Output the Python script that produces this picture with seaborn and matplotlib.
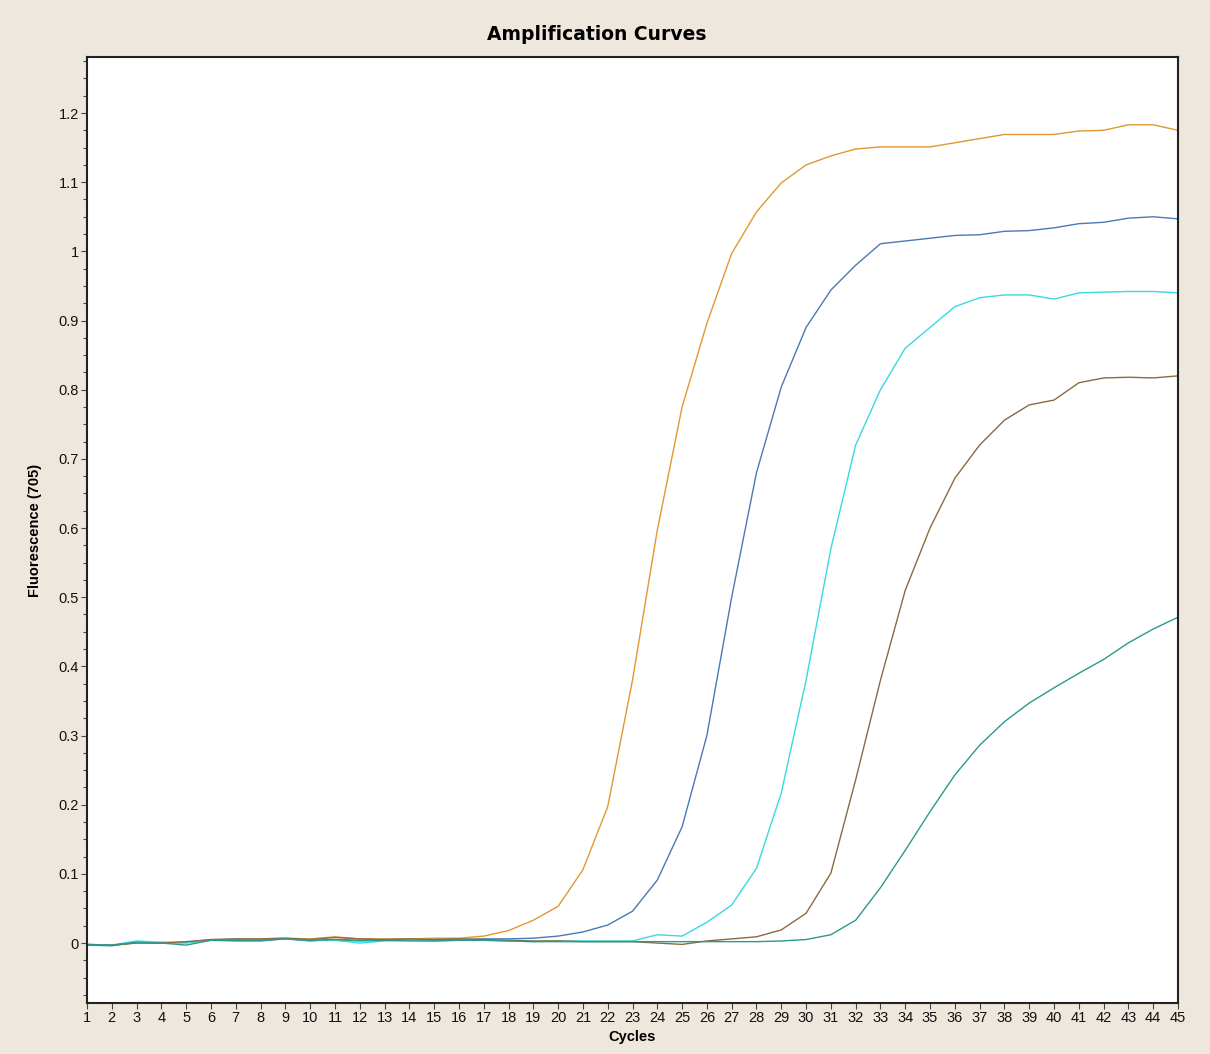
import numpy as np
import pandas as pd
import matplotlib
matplotlib.use("Agg")
import matplotlib.pyplot as plt
from matplotlib.ticker import AutoMinorLocator, FuncFormatter
import seaborn as sns

# --- Data (fluorescence per cycle) ---
cycles = list(range(1, 46))

orange = [-0.002, -0.003, 0.000, 0.001, 0.001, 0.005, 0.005, 0.006, 0.007, 0.006,
          0.009, 0.006, 0.006, 0.006, 0.007, 0.007, 0.010, 0.018, 0.033, 0.053,
          0.106, 0.197, 0.380, 0.597, 0.775, 0.896, 0.997, 1.057, 1.099, 1.125,
          1.138, 1.148, 1.151, 1.151, 1.151, 1.157, 1.163, 1.169, 1.169, 1.169,
          1.174, 1.175, 1.183, 1.183, 1.175]
blue = [-0.003, -0.004, 0.001, 0.000, 0.001, 0.004, 0.003, 0.003, 0.006, 0.003,
        0.005, 0.004, 0.005, 0.004, 0.005, 0.005, 0.006, 0.006, 0.007, 0.010,
        0.016, 0.026, 0.046, 0.091, 0.168, 0.300, 0.500, 0.680, 0.804, 0.890,
        0.944, 0.980, 1.011, 1.015, 1.019, 1.023, 1.024, 1.029, 1.030, 1.034,
        1.040, 1.042, 1.048, 1.050, 1.047]
cyan = [-0.002, -0.003, 0.003, 0.001, 0.000, 0.004, 0.006, 0.005, 0.006, 0.004,
        0.004, 0.000, 0.003, 0.004, 0.003, 0.004, 0.004, 0.003, 0.002, 0.003,
        0.003, 0.003, 0.003, 0.012, 0.010, 0.030, 0.055, 0.108, 0.217, 0.380,
        0.570, 0.720, 0.800, 0.860, 0.890, 0.920, 0.933, 0.937, 0.937, 0.931,
        0.940, 0.941, 0.942, 0.942, 0.940]
brown = [-0.003, -0.003, 0.000, 0.000, 0.002, 0.005, 0.006, 0.006, 0.007, 0.005,
         0.008, 0.006, 0.005, 0.006, 0.005, 0.006, 0.005, 0.004, 0.003, 0.003,
         0.002, 0.002, 0.002, 0.000, -0.002, 0.003, 0.006, 0.009, 0.019, 0.043,
         0.101, 0.236, 0.380, 0.510, 0.600, 0.672, 0.720, 0.756, 0.778, 0.785,
         0.810, 0.817, 0.818, 0.817, 0.820]
teal = [-0.002, -0.003, 0.001, 0.000, -0.003, 0.004, 0.004, 0.004, 0.006, 0.004,
        0.005, 0.003, 0.004, 0.003, 0.003, 0.004, 0.004, 0.003, 0.002, 0.002,
        0.002, 0.002, 0.002, 0.002, 0.002, 0.002, 0.002, 0.002, 0.003, 0.005,
        0.012, 0.033, 0.080, 0.134, 0.190, 0.243, 0.286, 0.320, 0.347, 0.369,
        0.390, 0.410, 0.434, 0.454, 0.471]

samples = ["S1", "S2", "S3", "S4", "S5"]
series = [orange, blue, cyan, brown, teal]
colors = ["#E3972F", "#4B79B5", "#38D9E0", "#8A6A42", "#2B9A8C"]

BG = "#EEE7DE"

rows = []
for name, vals in zip(samples, series):
    for c, v in zip(cycles, vals):
        rows.append({"Cycle": c, "Fluorescence": v, "Sample": name})
df = pd.DataFrame(rows)

sns.set_style("ticks")
plt.rcParams["font.family"] = ["Liberation Sans", "DejaVu Sans"]

fig = plt.figure(figsize=(12.1, 10.54), dpi=100, facecolor=BG)
ax = fig.add_axes([87 / 1210, 51 / 1054, 1091 / 1210, 946 / 1054])
ax.set_facecolor("white")

sns.lineplot(data=df, x="Cycle", y="Fluorescence", hue="Sample",
             palette=dict(zip(samples, colors)), linewidth=1.0,
             legend=False, ax=ax)

ax.set_xlim(1, 45)
ax.set_ylim(-0.0867, 1.281)
ax.set_xticks(cycles)
ax.set_yticks(np.arange(0, 1.21, 0.1))
ax.yaxis.set_major_formatter(FuncFormatter(
    lambda v, p: f"{v:.1f}".rstrip("0").rstrip(".") if abs(v) > 1e-9 else "0"))
ax.yaxis.set_minor_locator(AutoMinorLocator(4))
ax.tick_params(axis="both", which="major", length=4, width=0.8, labelsize=10.5,
               color="#444444", labelcolor="#111111", pad=2)
ax.tick_params(axis="y", which="minor", length=3, width=0.8, color="#444444")

for s in ax.spines.values():
    s.set_color("#222222")
    s.set_linewidth(1.5)

ax.set_xlabel("Cycles", fontsize=10.5, fontweight="bold", labelpad=3, color="black")
ax.set_ylabel("Fluorescence (705)", fontsize=10.5, fontweight="bold", labelpad=12, color="black")
fig.text(597 / 1210, 1 - 35 / 1054, "Amplification Curves", ha="center", va="center",
         fontsize=13.5, fontweight="heavy", color="black", family=["DejaVu Sans"])

fig.savefig("out.png", dpi=100, facecolor=BG)
